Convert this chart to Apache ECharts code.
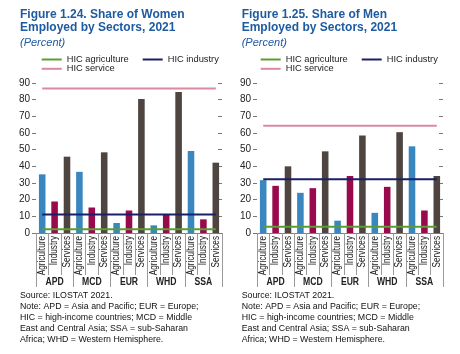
<!DOCTYPE html>
<html>
<head>
<meta charset="utf-8">
<script src="https://cdn.jsdelivr.net/npm/echarts@6/dist/echarts.min.js"></script>
<style>
  html, body { margin: 0; padding: 0; background: #fff; }
  #chart { width: 460px; height: 354px; }
</style>
</head>
<body>
<div id="chart"></div>
<script>
const regions = ['APD', 'MCD', 'EUR', 'WHD', 'SSA']
const sectors = ['Agriculture', 'Industry', 'Services']

// women, share by sector (%)
const womenAgriculture = [35.2, 36.7, 6.0, 4.6, 49.2]
const womenIndustry = [18.9, 15.3, 13.5, 11.3, 8.2]
const womenServices = [45.8, 48.4, 80.4, 84.6, 42.2]
// HIC reference lines: agriculture, industry, service
const womenHic = [2.2, 11.1, 86.7]

// men
const menAgriculture = [31.7, 24.1, 7.4, 12.1, 52.0]
const menIndustry = [28.3, 26.9, 34.2, 27.7, 13.5]
const menServices = [40.0, 49.0, 58.5, 60.5, 34.2]
const menHic = [3.8, 32.3, 64.3]

const hicNames = ['HIC agriculture', 'HIC industry', 'HIC service']

const blue = '#1e5ba0'
const barColors = ['#3a87c0', '#990a4c', '#4e4540']
const hicColors = ['#5a9e33', '#1b1f66', '#d98aa2']
const sans = "'Liberation Sans', Arial, sans-serif"
// no condensed font installed, so squeeze the axis texts horizontally
const narrowScale = 0.82

const categories = []
regions.forEach(() => sectors.forEach((s) => categories.push(s)))

function barData(agri, ind, serv) {
  const out = []
  regions.forEach((r, i) => {
    ;[agri[i], ind[i], serv[i]].forEach((v, s) => {
      out.push({ value: v, itemStyle: { color: barColors[s] } })
    })
  })
  return out
}

const grids = [
  { left: 36, top: 83, width: 186, height: 150 },
  { left: 257, top: 83, width: 186, height: 150 },
]
const axisY = 233

const xAxis = []
const yAxis = []
grids.forEach((g, gi) => {
  // sectors: axis line + short separators
  xAxis.push({
    type: 'category',
    gridIndex: gi,
    data: categories,
    position: 'bottom',
    axisLine: { show: true, lineStyle: { color: '#808080', width: 1 } },
    axisTick: { show: true, interval: 0, length: 42, lineStyle: { color: '#9a9a9a' } },
    axisLabel: { show: false },
  })
  // regions: long separators
  xAxis.push({
    type: 'category',
    gridIndex: gi,
    data: regions,
    position: 'bottom',
    axisLine: { show: false },
    axisTick: { show: true, interval: 0, length: 54, lineStyle: { color: '#9a9a9a' } },
    axisLabel: { show: false },
  })
  yAxis.push({
    type: 'value',
    gridIndex: gi,
    min: 0,
    max: 90,
    interval: 10,
    position: 'left',
    splitLine: { show: false },
    axisLine: { show: false },
    axisTick: { show: true, length: 4, lineStyle: { color: '#777' } },
    axisLabel: { margin: 6, fontSize: 10, fontFamily: sans, color: '#222' },
  })
  yAxis.push({
    type: 'value',
    gridIndex: gi,
    min: 0,
    max: 90,
    interval: 10,
    position: 'right',
    splitLine: { show: false },
    axisLine: { show: false },
    axisTick: { show: true, inside: true, length: 4, lineStyle: { color: '#777' } },
    axisLabel: { show: false },
  })
})

const series = []
const sets = [
  { name: 'Women', bars: barData(womenAgriculture, womenIndustry, womenServices), hic: womenHic },
  { name: 'Men', bars: barData(menAgriculture, menIndustry, menServices), hic: menHic },
]
sets.forEach((set, gi) => {
  series.push({
    name: set.name,
    type: 'bar',
    xAxisIndex: gi * 2,
    yAxisIndex: gi * 2,
    barWidth: '53%',
    data: set.bars,
  })
  set.hic.forEach((v, k) => {
    series.push({
      name: hicNames[k],
      type: 'line',
      xAxisIndex: gi * 2,
      yAxisIndex: gi * 2,
      color: hicColors[k],
      symbol: 'none',
      lineStyle: { color: hicColors[k], width: 2 },
      data: categories.map(() => v),
      z: 3,
    })
  })
})

const legendBase = {
  icon: 'rect',
  itemWidth: 20,
  itemHeight: 2,
  itemGap: 14,
  padding: 0,
  selectedMode: false,
  textStyle: { fontSize: 9.3, fontFamily: sans, color: '#222', padding: [0, 0, 0, 0] },
}
const legendPos = [41.7, 260.7]
const legend = []
legendPos.forEach((x) => {
  legend.push({ ...legendBase, left: x, top: 55, data: [hicNames[0], hicNames[1]] })
  legend.push({ ...legendBase, left: x, top: 64.3, data: [hicNames[2]] })
})

const titleTexts = [
  { text: 'Figure 1.24. Share of Women\nEmployed by Sectors, 2021', left: 20 },
  { text: 'Figure 1.25. Share of Men\nEmployed by Sectors, 2021', left: 241.7 },
]
const title = titleTexts.map((t) => ({
  text: t.text,
  subtext: '(Percent)',
  left: t.left,
  top: 7.5,
  padding: 0,
  itemGap: 2,
  textStyle: { fontSize: 12, fontWeight: 'bold', lineHeight: 13.5, color: blue, fontFamily: sans },
  subtextStyle: { fontSize: 11, fontStyle: 'italic', lineHeight: 12, color: blue, fontFamily: sans },
}))

const note = 'Source: ILOSTAT 2021.\nNote: APD = Asia and Pacific; EUR = Europe;\nHIC = high-income countries; MCD = Middle\nEast and Central Asia; SSA = sub-Saharan\nAfrica; WHD = Western Hemisphere.'
const graphic = [20, 241.7].map((x) => ({
  type: 'text',
  left: x,
  top: 290.3,
  style: { text: note, fontSize: 8.8, lineHeight: 10.9, fill: '#111', fontFamily: sans },
}))

const chart = echarts.init(document.getElementById('chart'))
chart.setOption({
  animation: false,
  title,
  legend,
  grid: grids,
  xAxis,
  yAxis,
  series,
  graphic,
})

// category texts placed from the axis scales
const axisTexts = []
grids.forEach((g, gi) => {
  categories.forEach((c, j) => {
    axisTexts.push({
      type: 'text',
      x: chart.convertToPixel({ xAxisIndex: gi * 2 }, j),
      y: axisY + 3,
      rotation: Math.PI / 2,
      scaleX: narrowScale,
      style: {
        text: c,
        fontSize: 10,
        fontFamily: sans,
        fill: '#222',
        align: 'right',
        verticalAlign: 'middle',
      },
    })
  })
  regions.forEach((r, i) => {
    axisTexts.push({
      type: 'text',
      x: chart.convertToPixel({ xAxisIndex: gi * 2 + 1 }, i),
      y: 282,
      scaleX: narrowScale,
      style: {
        text: r,
        fontSize: 10.5,
        fontWeight: 'bold',
        fontFamily: sans,
        fill: '#222',
        align: 'center',
        verticalAlign: 'middle',
      },
    })
  })
})
chart.setOption({ graphic: graphic.concat(axisTexts) })
</script>
</body>
</html>
